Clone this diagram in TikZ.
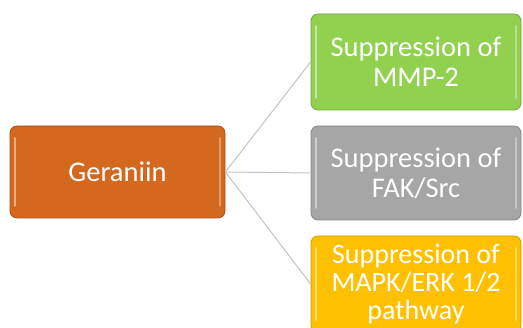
\documentclass[tikz,border=0pt]{standalone}
\usepackage{fontspec}
\setmainfont{Carlito}
\usetikzlibrary{positioning}
\usetikzlibrary{calc}

\definecolor{gerorange}{RGB}{211,104,30}
\definecolor{mmpgreen}{RGB}{146,208,80}
\definecolor{fakgray}{RGB}{166,166,166}
\definecolor{mapkyellow}{RGB}{255,192,0}
\definecolor{linkgray}{RGB}{195,195,195}

\begin{document}
\begin{tikzpicture}[x=1pt,y=-1pt]
			\tikzset{box/.style = {shape=rectangle, rounded corners=7pt, draw=#1!80!black, line width=0.8pt,
					fill=#1, text=white, align=center, inner sep=0pt,
					font=\fontsize{28.5}{30}\selectfont,
					path picture={
						\draw[white, opacity=0.45, line width=2pt, line cap=round]
						([xshift=5pt,yshift=-12pt]path picture bounding box.north west) --
						([xshift=5pt,yshift=12pt]path picture bounding box.south west);
						\draw[white, opacity=0.35, line width=2pt, line cap=round]
						([xshift=-5pt,yshift=-12pt]path picture bounding box.north east) --
						([xshift=-5pt,yshift=12pt]path picture bounding box.south east);}}}
			\tikzset{link/.style = {draw=linkgray, line width=1pt}}
			
			\useasboundingbox (0,0) rectangle (523,328);
			
			\node[box=gerorange, minimum width=215pt, minimum height=92pt] (GER) at (117.5,172) {Geraniin};
			
			\node[box=mmpgreen, minimum width=210pt, minimum height=96pt] (MMP) at (416,62)
			{Suppression of\\MMP-2};
			\node[box=fakgray, minimum width=210pt, minimum height=94pt] (FAK) at (416,173)
			{Suppression of\\FAK/Src};
			\node[box=mapkyellow, minimum width=210pt, minimum height=96pt,
			font=\fontsize{28}{28}\selectfont] (MAPK) at (416,284)
			{Suppression of\\MAPK/ERK 1/2\\pathway};
			
			\draw[link] (GER.east) -- (MMP.west);
			\draw[link] (GER.east) -- (FAK.west);
			\draw[link] (GER.east) -- (MAPK.west);
			
			\end{tikzpicture}
\end{document}
